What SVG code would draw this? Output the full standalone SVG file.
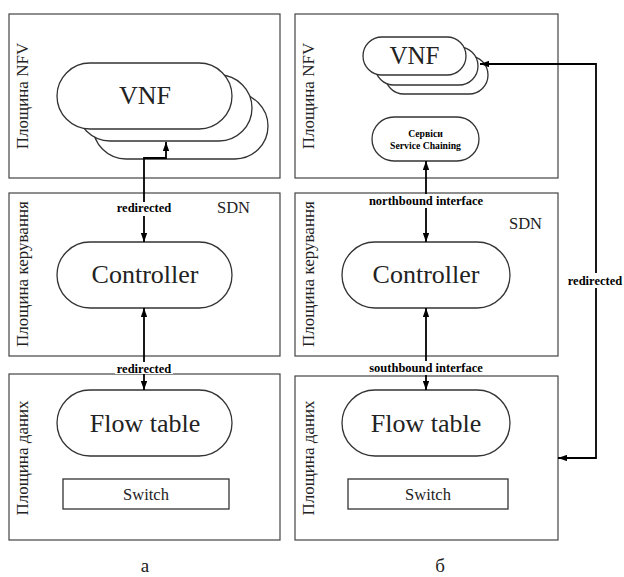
<svg xmlns="http://www.w3.org/2000/svg" width="624" height="577" viewBox="0 0 624 577" font-family="Liberation Serif, Times New Roman, DejaVu Serif, serif">
<style>
.panel{fill:#fff;stroke:#444;stroke-width:1.2}
.pill{fill:#fff;stroke:#333;stroke-width:1.3}
.conn{fill:none;stroke:#000;stroke-width:1.8}
.t{font-family:'Liberation Serif','Times New Roman',serif;fill:#222}
.big{font-size:26px;text-anchor:middle}
.vl{font-size:17px;text-anchor:middle}
.lbl{font-size:12.5px;font-weight:bold;text-anchor:middle;fill:#000}
.sdn{font-size:16.5px}
.sw{font-size:16.5px;text-anchor:middle}
.bg{fill:#fff;stroke:none}
</style>
<defs>
<marker id="ah" viewBox="0 0 10 7" refX="10" refY="3.5" markerWidth="9" markerHeight="6.5" markerUnits="userSpaceOnUse" orient="auto-start-reverse">
<path d="M0,0 L10,3.5 L0,7 z" fill="#000"/>
</marker>
</defs>

<g id="panel-a-nfv">
<rect class="panel" x="9" y="14" width="271" height="164"/>
<text class="t vl" transform="translate(28,96) rotate(-90)">Площина NFV</text>
</g>
<g id="panel-a-ctrl">
<rect class="panel" x="9" y="193" width="271" height="163"/>
<text class="t vl" transform="translate(28,274) rotate(-90)">Площина керування</text>
<text class="t sdn" x="217" y="213">SDN</text>
</g>
<g id="panel-a-data">
<rect class="panel" x="9" y="374" width="271" height="166"/>
<text class="t vl" transform="translate(28,458) rotate(-90)">Площина даних</text>
</g>
<g id="panel-b-nfv">
<rect class="panel" x="295" y="14" width="263" height="164"/>
<text class="t vl" transform="translate(314,96) rotate(-90)">Площина NFV</text>
</g>
<g id="panel-b-ctrl">
<rect class="panel" x="295" y="193" width="263" height="163"/>
<text class="t vl" transform="translate(314,274) rotate(-90)">Площина керування</text>
<text class="t sdn" x="509" y="229">SDN</text>
</g>
<g id="panel-b-data">
<rect class="panel" x="295" y="376" width="263" height="164"/>
<text class="t vl" transform="translate(314,458) rotate(-90)">Площина даних</text>
</g>

<g id="vnf-a">
<rect class="pill" x="93" y="93" width="175" height="66" rx="33"/>
<rect class="pill" x="77" y="75" width="175" height="66" rx="33"/>
<rect class="pill" x="57" y="63" width="175" height="66" rx="33"/>
<text class="t big" x="145" y="104">VNF</text>
</g>
<g id="controller-a">
<rect class="pill" x="57" y="242" width="175" height="66" rx="33"/>
<text class="t big" x="145" y="283">Controller</text>
</g>
<g id="flowtable-a">
<rect class="pill" x="57" y="390" width="175" height="66" rx="33"/>
<text class="t big" x="145" y="432">Flow table</text>
</g>
<g id="switch-a">
<rect class="pill" x="63" y="479" width="166" height="30"/>
<text class="t sw" x="146" y="500">Switch</text>
</g>

<g id="vnf-b">
<rect class="pill" x="385" y="56" width="103" height="38" rx="19"/>
<rect class="pill" x="375" y="47" width="103" height="38" rx="19"/>
<rect class="pill" x="363" y="37" width="103" height="38" rx="19"/>
<text class="t big" x="414.5" y="64" style="font-size:25px">VNF</text>
</g>
<g id="service-chaining-b">
<rect class="pill" x="372" y="117" width="107" height="44" rx="22"/>
<text class="t lbl" x="425.5" y="137" style="font-size:9.7px">Сервіси</text>
<text class="t lbl" x="425.5" y="149" style="font-size:9.7px">Service Chaining</text>
</g>
<g id="controller-b">
<rect class="pill" x="342" y="242" width="168" height="66" rx="33"/>
<text class="t big" x="426" y="283">Controller</text>
</g>
<g id="flowtable-b">
<rect class="pill" x="342" y="390" width="168" height="66" rx="33"/>
<text class="t big" x="426" y="432">Flow table</text>
</g>
<g id="switch-b">
<rect class="pill" x="348" y="479" width="160" height="30"/>
<text class="t sw" x="428" y="500">Switch</text>
</g>

<g id="connectors">
<path class="conn" d="M166,142 L166,158 L144,158 L144,242" marker-start="url(#ah)" marker-end="url(#ah)"/>
<path class="conn" d="M144,308 L144,390" marker-start="url(#ah)" marker-end="url(#ah)"/>
<path class="conn" d="M426,161 L426,242" marker-start="url(#ah)" marker-end="url(#ah)"/>
<path class="conn" d="M426,308 L426,390" marker-start="url(#ah)" marker-end="url(#ah)"/>
<path class="conn" d="M480,64 L596,64 L596,458 L558,458" marker-start="url(#ah)" marker-end="url(#ah)"/>
<rect class="bg" x="115" y="202" width="58" height="14"/>
<text class="t lbl" x="144" y="212">redirected</text>
<rect class="bg" x="115" y="362" width="58" height="12"/>
<text class="t lbl" x="144" y="373">redirected</text>
<rect class="bg" x="368" y="194" width="116" height="14"/>
<text class="t lbl" x="426" y="205">northbound interface</text>
<rect class="bg" x="368" y="361" width="116" height="14"/>
<text class="t lbl" x="426" y="372">southbound interface</text>
<rect class="bg" x="566" y="273" width="58" height="15"/>
<text class="t lbl" x="595" y="285">redirected</text>
</g>

<text class="t" x="145" y="572" style="font-size:19px;text-anchor:middle">а</text>
<text class="t" x="440" y="572" style="font-size:19px;text-anchor:middle">б</text>
</svg>
